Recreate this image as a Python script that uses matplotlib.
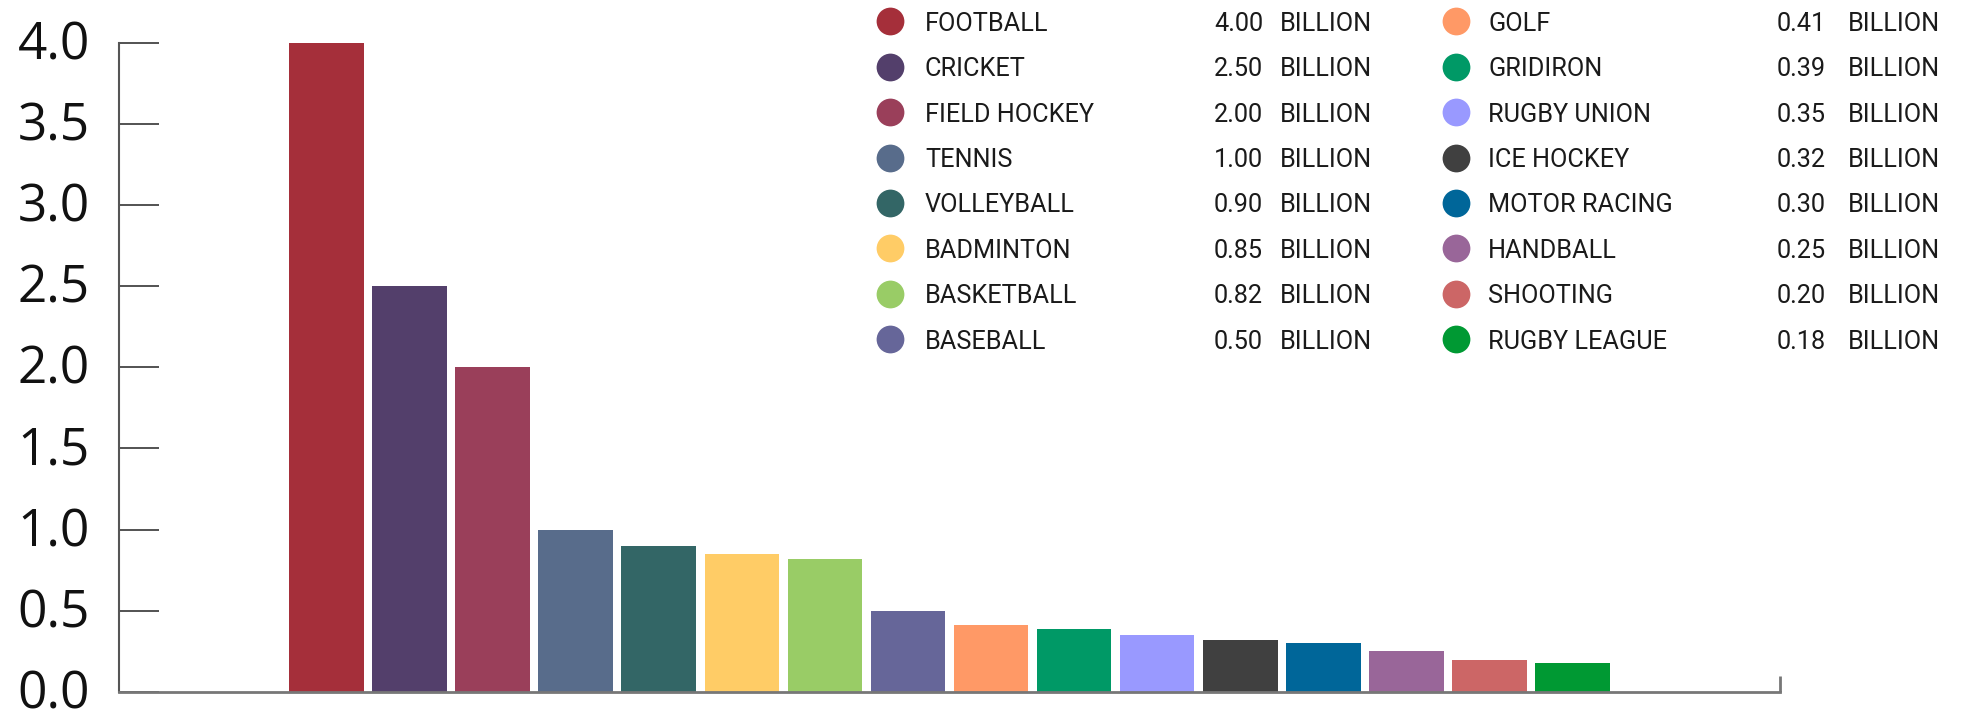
import matplotlib
matplotlib.use("Agg")
import matplotlib.pyplot as plt

# 各项运动的观众人数（十亿）
sports = ["FOOTBALL", "CRICKET", "FIELD HOCKEY", "TENNIS", "VOLLEYBALL", "BADMINTON",
          "BASKETBALL", "BASEBALL", "GOLF", "GRIDIRON", "RUGBY UNION", "ICE HOCKEY",
          "MOTOR RACING", "HANDBALL", "SHOOTING", "RUGBY LEAGUE"]
fans = [4.00, 2.50, 2.00, 1.00, 0.90, 0.85, 0.82, 0.50,
        0.41, 0.39, 0.35, 0.32, 0.30, 0.25, 0.20, 0.18]
colors = ["#A52F3A", "#533F6B", "#9A3F5A", "#586C8B", "#336666", "#FFCC66",
          "#99CC66", "#666699", "#FF9966", "#009966", "#9999FF", "#404040",
          "#006699", "#996699", "#CC6666", "#009933"]
yticks = [0.0, 0.5, 1.0, 1.5, 2.0, 2.5, 3.0, 3.5, 4.0]

W, H = 1966, 717
fig = plt.figure(figsize=(W / 100, H / 100), dpi=100)
ax = fig.add_axes([119 / W, 1 - 692 / H, (1780 - 119) / W, (692 - 42.6) / H])

x = list(range(len(sports)))
ax.bar(x, fans, width=0.9, color=colors, zorder=2)

ax.set_xlim(-2.5, 17.5)
ax.set_ylim(0, 4.0)
ax.set_yticks(yticks)
ax.set_yticklabels(["%.1f" % v for v in yticks], fontsize=37, family="Open Sans",
                   color="#111111", va="center")
ax.set_xticks([])
ax.tick_params(axis="y", direction="in", length=29, width=1.3, color="#444444", pad=21)
# 标签比刻度略低一点
for lab in ax.get_yticklabels():
    lab.set_y(lab.get_position()[1])
    lab.set_transform(lab.get_transform() + matplotlib.transforms.ScaledTranslation(0, -3 / 100, fig.dpi_scale_trans))

for s in ["top", "right"]:
    ax.spines[s].set_visible(False)
ax.spines["left"].set_color("#555555")
ax.spines["bottom"].set_color("#777777")
ax.spines["left"].set_linewidth(1.5)
ax.spines["bottom"].set_linewidth(2.0)
# 右端的小竖线
ax.plot([17.5, 17.5], [0, 0.1], color="#777777", lw=2.0, clip_on=False, solid_capstyle="butt")

# 图例：两列，每列8行
row_y = [21.3 + 45.4 * i for i in range(8)]
cols = [(890, 925, 1214, 1280), (1456, 1488, 1777, 1848)]
for i, (name, val, c) in enumerate(zip(sports, fans, colors)):
    cx, lx, vx, bx = cols[i // 8]
    yy = 1 - row_y[i % 8] / H
    ty = 1 - (row_y[i % 8] + 2.5) / H
    fig.lines.append(plt.Line2D([cx / W], [yy], marker="o", markersize=20, color=c,
                                markeredgewidth=0, transform=fig.transFigure))
    fig.text(lx / W, ty, name, fontsize=18.2, family="Roboto", color="#1a1a1a", va="center")
    fig.text(vx / W, ty, "%.2f" % val, fontsize=18.2, family="Roboto", color="#1a1a1a", va="center")
    fig.text(bx / W, ty, "BILLION", fontsize=18.2, family="Roboto", color="#1a1a1a", va="center")

fig.savefig("out.png", dpi=100)
